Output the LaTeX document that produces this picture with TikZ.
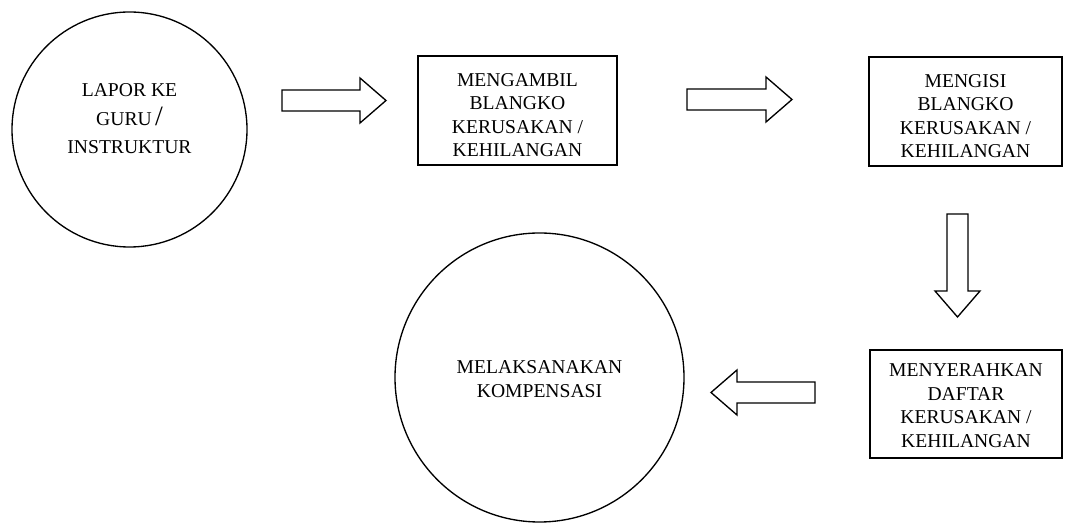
\documentclass[tikz,border=0pt]{standalone}
\usepackage{fontspec}
\setmainfont{Liberation Serif}
\usepackage{tikz}
\usetikzlibrary{calc}
\tikzset{
  steptext/.style={align=center, inner sep=0pt, font=\fontsize{14.7}{17.6}\selectfont},
  stepbox/.style={steptext, draw=black, line width=1pt, rectangle},
  stepcircle/.style={steptext, draw=black, line width=1pt, circle},
  arrowline/.style={draw=black, line width=1pt, fill=white},
  pics/fatarrow/.style={code={
    \draw[arrowline] (0,-10.5) -- (#1-26,-10.5) -- (#1-26,-22.5) -- (#1,0)
      -- (#1-26,22.5) -- (#1-26,10.5) -- (0,10.5) -- cycle;
  }},
}

\begin{document}
\begin{tikzpicture}[x=0.75pt, y=-0.75pt]
\useasboundingbox (0,0) rectangle (1065,523);

% steps
\node[stepcircle, minimum size=176.25pt] (lapor) at (129.5,129.5)
  {LAPOR KE\\[4pt] GURU\,{\fontsize{21}{21}\selectfont /}\\[3pt] INSTRUKTUR\rule[-16.5pt]{0pt}{16.5pt}};
\node[stepbox, minimum width=149.25pt, minimum height=81.75pt] (ambil) at (517.5,110.5)
  {\rule{0pt}{17pt}MENGAMBIL\\ BLANGKO\\ KERUSAKAN /\\ KEHILANGAN};
\node[stepbox, minimum width=144.75pt, minimum height=81.75pt] (isi) at (965.5,111.5)
  {\rule{0pt}{17pt}MENGISI\\ BLANGKO\\ KERUSAKAN /\\ KEHILANGAN};
\node[stepbox, minimum width=144pt, minimum height=81pt] (serah) at (966,404)
  {\rule{0pt}{12pt}MENYERAHKAN\\ DAFTAR\\ KERUSAKAN /\\ KEHILANGAN};
\node[stepcircle, minimum size=216.75pt] (kompensasi) at (539.5,377.5)
  {\rule{0pt}{12pt}MELAKSANAKAN\\ KOMPENSASI};

% block arrows
\coordinate (a1) at (282,100.5);
\coordinate (a2) at (687,99.5);
\coordinate (a3) at (957.5,214);
\coordinate (a4) at (815,392.5);
\pic at (a1) {fatarrow=104};
\pic at (a2) {fatarrow=105};
\pic[rotate=-90] at (a3) {fatarrow=103};
\pic[rotate=180] at (a4) {fatarrow=104};
\end{tikzpicture}
\end{document}
